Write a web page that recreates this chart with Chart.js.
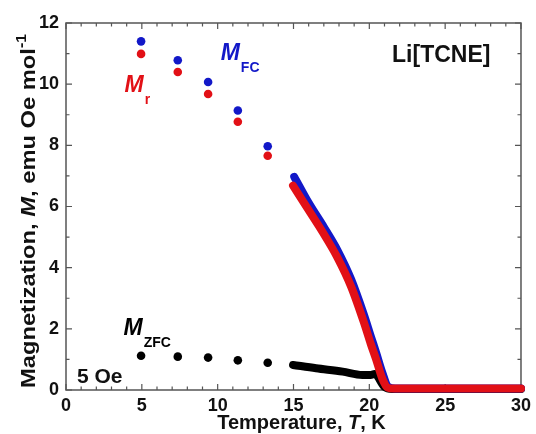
<!DOCTYPE html>
<html>
<head>
<meta charset="utf-8">
<script src="https://cdn.jsdelivr.net/npm/chart.js@4/dist/chart.umd.min.js"></script>
<style>
  html, body { margin: 0; padding: 0; background: #fff; }
</style>
</head>
<body>
<canvas id="magChart" width="536" height="434"></canvas>
<script>
// discrete low-temperature points
const stepTemps = [4.95, 7.37, 9.37, 11.33, 13.3];
const fcStep = [11.4, 10.78, 10.07, 9.14, 7.97];
const remStep = [10.99, 10.4, 9.68, 8.77, 7.66];
const zfcStep = [1.12, 1.09, 1.06, 0.97, 0.89];

// dense scans above 15 K
const fcScanT = [15.05, 16.0, 17.0, 17.9, 18.8, 19.65, 20.1, 20.45, 20.85, 21.25, 21.7, 30];
const fcScanM = [6.97, 6.12, 5.33, 4.57, 3.62, 2.45, 1.75, 1.22, 0.58, 0.1, 0.05, 0.05];
const remScanT = [14.97, 16.0, 17.0, 17.9, 18.8, 19.65, 20.1, 20.45, 20.85, 21.2, 21.6, 30];
const remScanM = [6.68, 5.88, 5.1, 4.33, 3.38, 2.2, 1.5, 1.0, 0.38, 0.08, 0.05, 0.05];
const zfcScanT = [14.97, 16.49, 18.24, 19.54, 20.08, 20.35, 21.0, 21.5, 30];
const zfcScanM = [0.82, 0.71, 0.6, 0.49, 0.49, 0.52, 0.1, 0.03, 0.03];

const xTicks = [0, 5, 10, 15, 20, 25, 30];
const yTicks = [0, 2, 4, 6, 8, 10, 12];

const BLUE = 'rgb(18, 24, 200)';
const RED = 'rgb(226, 16, 22)';
const BLACK = '#000';
const FONT = '"Liberation Sans", Arial, sans-serif';

const pts = (xs, ys) => xs.map((x, i) => ({ x: x, y: ys[i] }));

const scanSet = (xs, ys, color) => ({
    data: pts(xs, ys),
    showLine: true,
    borderColor: color,
    borderWidth: 8,
    borderCapStyle: 'round',
    borderJoinStyle: 'round',
    pointRadius: 0,
    cubicInterpolationMode: 'monotone',
    clip: false,
});

const stepSet = (xs, ys, color) => ({
    data: pts(xs, ys),
    showLine: false,
    backgroundColor: color,
    borderColor: color,
    pointRadius: 4.3,
    borderWidth: 0,
    clip: false,
});

// frame with inward ticks, drawn under the data
const framePlugin = {
    id: 'frame',
    beforeDatasetsDraw(chart) {
        const { ctx, chartArea: a, scales: { x, y } } = chart;
        ctx.save();
        ctx.strokeStyle = '#555';
        ctx.lineWidth = 1.5;
        ctx.strokeRect(a.left, a.top, a.right - a.left, a.bottom - a.top);
        ctx.lineWidth = 1.2;
        ctx.beginPath();
        for (let t = 0; t <= 30; t++) {
            const px = x.getPixelForValue(t);
            const len = t % 5 === 0 ? 6 : 3.5;
            ctx.moveTo(px, a.bottom); ctx.lineTo(px, a.bottom - len);
            ctx.moveTo(px, a.top); ctx.lineTo(px, a.top + len);
        }
        for (let m = 0; m <= 12; m++) {
            const py = y.getPixelForValue(m);
            const len = m % 2 === 0 ? 6 : 3.5;
            ctx.moveTo(a.left, py); ctx.lineTo(a.left + len, py);
            ctx.moveTo(a.right, py); ctx.lineTo(a.right - len, py);
        }
        ctx.stroke();
        ctx.restore();
    }
};

function subLabel(ctx, px, py, main, sub, color) {
    ctx.fillStyle = color;
    ctx.font = 'italic bold 23px ' + FONT;
    ctx.fillText(main, px, py);
    const w = ctx.measureText(main).width;
    ctx.font = 'bold 14px ' + FONT;
    ctx.fillText(sub, px + w + 1, py + 12);
}

const textPlugin = {
    id: 'texts',
    afterDraw(chart) {
        const { ctx, scales: { x, y } } = chart;
        ctx.save();
        ctx.textBaseline = 'alphabetic';
        ctx.textAlign = 'left';

        subLabel(ctx, x.getPixelForValue(10.2), y.getPixelForValue(10.78), 'M', 'FC', BLUE);
        subLabel(ctx, x.getPixelForValue(3.86), y.getPixelForValue(9.74), 'M', 'r', RED);
        subLabel(ctx, x.getPixelForValue(3.79), y.getPixelForValue(1.8), 'M', 'ZFC', BLACK);

        ctx.fillStyle = '#111';
        ctx.font = 'bold 21px ' + FONT;
        ctx.fillText('5 Oe', x.getPixelForValue(0.72), y.getPixelForValue(0.23));
        ctx.font = 'bold 23px ' + FONT;
        ctx.fillText('Li[TCNE]', x.getPixelForValue(21.5), y.getPixelForValue(10.72));

        // x title
        const xParts = [['Temperature, ', 'bold'], ['T', 'italic bold'], [', K', 'bold']];
        let total = 0;
        xParts.forEach(p => { ctx.font = p[1] + ' 20px ' + FONT; total += ctx.measureText(p[0]).width; });
        let cx = 301.5 - total / 2;
        xParts.forEach(p => {
            ctx.font = p[1] + ' 20px ' + FONT;
            ctx.fillText(p[0], cx, 429);
            cx += ctx.measureText(p[0]).width;
        });

        // y title, rotated and stretched to the reference length
        const yParts = [['Magnetization, ', 'bold', 0], ['M', 'italic bold', 0], [', emu Oe mol', 'bold', 0], ['-1', 'bold', 1]];
        const fs = 21;
        total = 0;
        yParts.forEach(p => {
            ctx.font = p[1] + ' ' + (p[2] ? 14 : fs) + 'px ' + FONT;
            total += ctx.measureText(p[0]).width;
        });
        ctx.translate(35, 211);
        ctx.rotate(-Math.PI / 2);
        ctx.scale(354 / total, 1);
        let ty = -total / 2;
        yParts.forEach(p => {
            ctx.font = p[1] + ' ' + (p[2] ? 14 : fs) + 'px ' + FONT;
            ctx.fillText(p[0], ty, p[2] ? -9 : 0);
            ty += ctx.measureText(p[0]).width;
        });
        ctx.restore();
    }
};

new Chart(document.getElementById('magChart'), {
    type: 'scatter',
    data: {
        // first dataset is painted last (on top)
        datasets: [
            stepSet(stepTemps, remStep, RED),
            stepSet(stepTemps, fcStep, BLUE),
            stepSet(stepTemps, zfcStep, BLACK),
            scanSet(remScanT, remScanM, RED),
            scanSet(fcScanT, fcScanM, BLUE),
            scanSet(zfcScanT, zfcScanM, BLACK),
        ]
    },
    options: {
        responsive: false,
        animation: false,
        layout: { padding: { top: 23, right: 11, left: 0, bottom: 0 } },
        plugins: { legend: { display: false }, tooltip: { enabled: false } },
        scales: {
            x: {
                type: 'linear',
                min: 0, max: 30,
                afterBuildTicks: (s) => { s.ticks = xTicks.map(v => ({ value: v })); },
                afterFit: (s) => { s.height = 44; },
                grid: { display: false, drawTicks: false },
                border: { display: false },
                ticks: { padding: 5, color: '#111', font: { family: FONT, size: 18, weight: 'bold' } },
            },
            y: {
                type: 'linear',
                min: 0, max: 12,
                afterBuildTicks: (s) => { s.ticks = yTicks.map(v => ({ value: v })); },
                afterFit: (s) => { s.width = 66; },
                grid: { display: false, drawTicks: false },
                border: { display: false },
                ticks: { padding: 7, color: '#111', font: { family: FONT, size: 18, weight: 'bold' } },
            }
        }
    },
    plugins: [framePlugin, textPlugin]
});
</script>
</body>
</html>
